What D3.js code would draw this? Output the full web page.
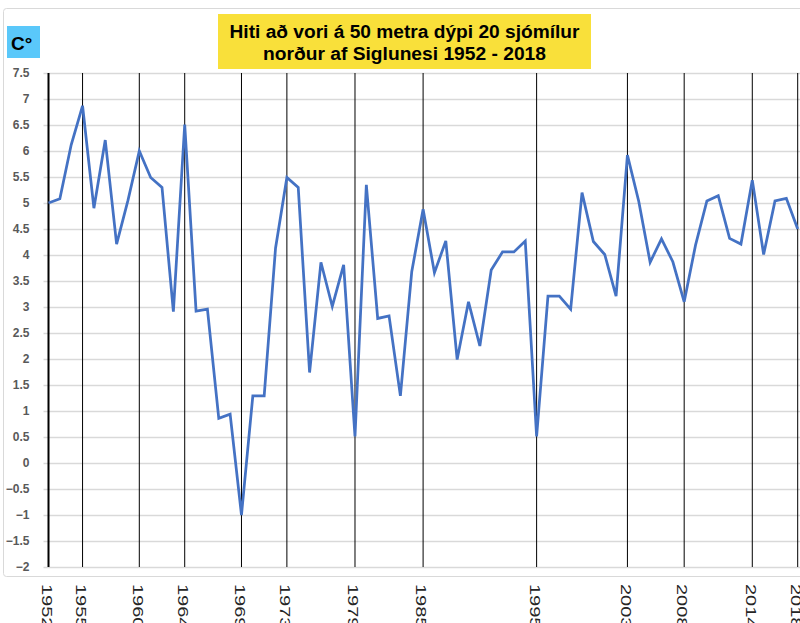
<!DOCTYPE html>
<html>
<head>
<meta charset="utf-8">
<script src="https://cdn.jsdelivr.net/npm/d3@7"></script>
<style>
  body { margin: 0; background: #fff; }
</style>
</head>
<body>
<div id="chart"></div>
<script>
// data
const years = [1952,1953,1954,1955,1956,1957,1958,1959,1960,1961,1962,1963,1964,1965,1966,1967,1968,1969,
  1970,1971,1972,1973,1974,1975,1976,1977,1978,1979,1980,1981,1982,1983,1984,1985,1986,1987,1988,1989,
  1990,1991,1992,1993,1994,1995,1996,1997,1998,1999,2000,2001,2002,2003,2004,2005,2006,2007,2008,2009,
  2010,2011,2012,2013,2014,2015,2016,2017,2018];
const temps = [5.0,5.08,6.12,6.87,4.9,6.21,4.21,5.05,6.0,5.49,5.3,2.91,6.51,2.92,2.96,0.86,0.94,-1.0,
  1.29,1.29,4.13,5.49,5.3,1.74,3.86,3.01,3.81,0.51,5.35,2.78,2.83,1.29,3.68,4.88,3.66,4.27,1.99,3.1,
  2.25,3.71,4.06,4.06,4.27,0.51,3.21,3.21,2.96,5.2,4.26,4.01,3.21,5.92,5.03,3.86,4.31,3.87,3.1,4.19,
  5.04,5.14,4.32,4.21,5.44,4.01,5.04,5.09,4.5];
const labelYears = [1952,1955,1960,1964,1969,1973,1979,1985,1995,2003,2008,2014,2018];
const yTicks = [-2,-1.5,-1,-0.5,0,0.5,1,1.5,2,2.5,3,3.5,4,4.5,5,5.5,6,6.5,7,7.5];
const titleLines = ["Hiti að vori á 50 metra dýpi 20 sjómílur", "norður af Siglunesi 1952 - 2018"];

var W = 800, H = 623;
var margin = {top: 73, left: 48.5},
    width = 797.7 - margin.left,
    height = 567 - margin.top;

var svg = d3.select("#chart")
  .append("svg")
    .attr("width", W)
    .attr("height", H)
    .style("display", "block");

// outer frame
svg.append("rect")
  .attr("x", 3.5).attr("y", 8.5)
  .attr("width", 820).attr("height", 568)
  .attr("rx", 3)
  .attr("fill", "none")
  .attr("stroke", "#d9d9d9");

var g = svg.append("g")
  .attr("transform", "translate(" + margin.left + "," + margin.top + ")");

var x = d3.scaleLinear()
  .domain([1952, 2018])
  .range([0, width]);

var y = d3.scaleLinear()
  .domain([-2, 7.5])
  .range([height, 0]);

// horizontal gridlines + labels
var yAxis = d3.axisLeft(y)
  .tickValues(yTicks)
  .tickSize(-(W - margin.left + 5))
  .tickPadding(14)
  .tickFormat(d3.format("~g"));

g.append("g")
  .attr("transform", "translate(-5,0)")
  .call(yAxis)
  .call(function(a) {
    a.select(".domain").remove();
    a.selectAll("line").attr("stroke", "#d9d9d9").attr("stroke-width", 1.5);
    a.selectAll("text")
      .attr("fill", "#595959")
      .style("font-family", "'Liberation Sans', Arial, sans-serif")
      .style("font-size", "12px")
      .style("font-weight", "bold");
  });

// vertical marker lines
g.selectAll(".vline")
  .data(labelYears)
  .enter()
  .append("line")
    .attr("class", "vline")
    .attr("x1", function(d) { return x(d); })
    .attr("x2", function(d) { return x(d); })
    .attr("y1", 0)
    .attr("y2", height)
    .attr("stroke", "#000")
    .attr("stroke-width", function(d) { return d === 1952 ? 2 : 1; });

// x labels, rotated (squeezed sideways like the original)
g.selectAll(".xlab")
  .data(labelYears)
  .enter()
  .append("text")
    .attr("class", "xlab")
    .attr("transform", function(d) {
      return "translate(" + (x(d) - 1.5) + "," + (height + 17) + ")rotate(90)scale(1,0.75)";
    })
    .attr("dy", "0.35em")
    .attr("fill", "#262626")
    .style("font-family", "'Liberation Sans', Arial, sans-serif")
    .style("font-size", "20px")
    .text(function(d) { return d; });

// the line
var line = d3.line()
  .x(function(d, i) { return x(years[i]); })
  .y(function(d) { return y(d); });

g.append("path")
  .datum(temps)
  .attr("fill", "none")
  .attr("stroke", "#4472c4")
  .attr("stroke-width", 2.75)
  .attr("stroke-linejoin", "miter")
  .attr("d", line);

// unit box
svg.append("rect")
  .attr("x", 7).attr("y", 26)
  .attr("width", 33).attr("height", 32)
  .attr("fill", "#5ac8fa");
svg.append("text")
  .attr("x", 11).attr("y", 50)
  .style("font-family", "'Liberation Sans', Arial, sans-serif")
  .style("font-size", "19px")
  .style("font-weight", "bold")
  .text("C°");

// title box
svg.append("rect")
  .attr("x", 218).attr("y", 14)
  .attr("width", 373).attr("height", 55)
  .attr("fill", "#f9e03a");
svg.selectAll(".title")
  .data(titleLines)
  .enter()
  .append("text")
    .attr("class", "title")
    .attr("x", 404.5)
    .attr("y", function(d, i) { return 38 + i * 22; })
    .attr("text-anchor", "middle")
    .attr("textLength", function(d, i) { return i === 0 ? 350 : 283; })
    .attr("lengthAdjust", "spacingAndGlyphs")
    .style("font-family", "'Liberation Sans Narrow', 'Liberation Sans', Arial, sans-serif")
    .style("font-size", "18px")
    .style("font-weight", "bold")
    .text(function(d) { return d; });
</script>
</body>
</html>
